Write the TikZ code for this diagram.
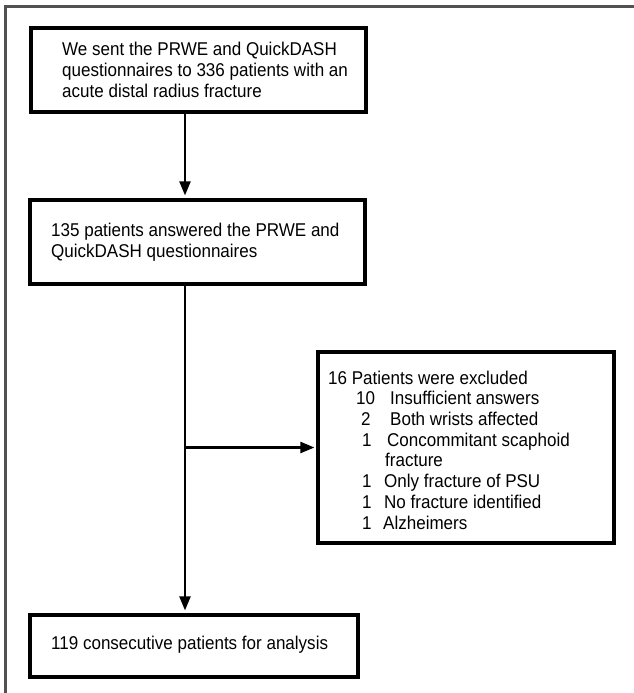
\documentclass[tikz,border=0pt]{standalone}
\usepackage{fontspec}
\setmainfont{Liberation Sans}[FakeStretch=0.92]
\usetikzlibrary{arrows.meta}
\begin{document}
\begin{tikzpicture}[x=1pt,y=-1pt,
  box/.style={draw=black, line width=3.2pt, rectangle, inner sep=0pt},
  txt/.style={anchor=west, align=left, inner sep=0pt,
    font=\fontsize{18.5}{21}\selectfont},
  arr/.style={draw=black, line width=2.2pt, -{Triangle[length=14pt,width=11pt]}}]
\useasboundingbox (0,0) rectangle (634,693);
% outer frame (partial)
\draw[line width=2.5pt, draw=black!68] (5.5,694) -- (5.5,6.5) -- (635,6.5);
% boxes
\node[box, minimum width=335pt, minimum height=84pt] (b1) at (198.5,70) {};
\node[txt] (t1) at (62,70) {We sent the PRWE and QuickDASH\\questionnaires to 336 patients with an\\acute distal radius fracture};
\node[box, minimum width=335pt, minimum height=84pt] (b2) at (197.5,242) {};
\node[txt] (t2) at (51,242) {135 patients answered the PRWE and\\QuickDASH questionnaires};
\node[box, minimum width=296pt, minimum height=191pt] (b3) at (466,447.5) {};
\node[txt, font=\fontsize{18.5}{20.7}\selectfont] (t3) at (328,450) {16 Patients were excluded\\
\hspace*{28pt}\makebox[34pt][l]{10}Insufficient answers\\
\hspace*{33pt}\makebox[29pt][l]{2}Both wrists affected\\
\hspace*{34pt}\makebox[25pt][l]{1}Concommitant scaphoid\\
\hspace*{57pt}fracture\\
\hspace*{34pt}\makebox[22pt][l]{1}Only fracture of PSU\\
\hspace*{34pt}\makebox[22pt][l]{1}No fracture identified\\
\hspace*{34pt}\makebox[21pt][l]{1}Alzheimers};
\node[box, minimum width=328pt, minimum height=62pt] (b4) at (194,646) {};
\node[txt] (t4) at (51,645) {119 consecutive patients for analysis};
% connectors
\draw[arr, shorten >=3pt] (b1.south -| 185,0) -- (185,0 |- b2.north);
\draw[arr, shorten >=3pt] (185,0 |- b2.south) -- (185,0 |- b4.north);
\draw[arr, shorten >=2pt] (185,0 |- b3.west) -- (b3.west);
\end{tikzpicture}
\end{document}
